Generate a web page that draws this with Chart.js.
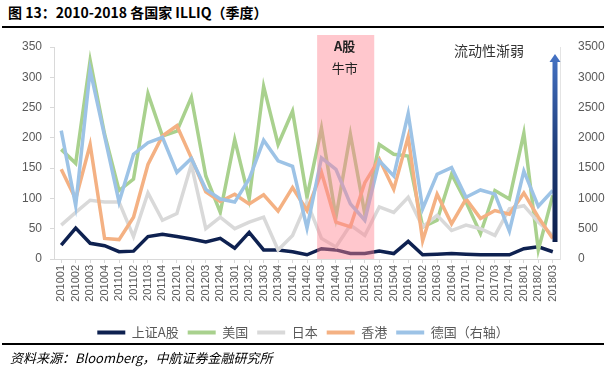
<!DOCTYPE html>
<html>
<head>
<meta charset="utf-8">
<script src="https://cdn.jsdelivr.net/npm/chart.js@4.4.0/dist/chart.umd.min.js"></script>
<style>
  body { margin: 0; background: #fff; }
  #wrap { position: relative; width: 606px; height: 371px; overflow: hidden; font-family: "Noto Sans CJK SC", sans-serif; }
  #chart { position: absolute; left: 0; top: 0; }
  .title { position: absolute; left: 8px; top: 2px; font-size: 14px; font-weight: bold; color: #000; }
  .rule { position: absolute; left: 2px; width: 602px; height: 0; border-top: 2px solid #000; }
  .src { position: absolute; left: 10px; top: 348px; font-size: 13px; font-style: italic; color: #000; }
</style>
</head>
<body>
<div id="wrap">
  <div class="title">图 13：2010-2018 各国家 ILLIQ（季度）</div>
  <div class="rule" style="top:26px"></div>
  <canvas id="chart" width="606" height="371"></canvas>
  <div class="rule" style="top:343px"></div>
  <div class="src">资料来源：Bloomberg，中航证券金融研究所</div>
</div>
<script>
// quarters 2010Q1 .. 2018Q3
const quarters = ['201001','201002','201003','201004','201101','201102','201103','201104',
  '201201','201202','201203','201204','201301','201302','201303','201304',
  '201401','201402','201403','201404','201501','201502','201503','201504',
  '201601','201602','201603','201604','201701','201702','201703','201704',
  '201801','201802','201803'];

// left axis
const shanghaiA = [23,51,26,22,12,13,37,41,37,33,28,34,18,44,15,15,12,7,17,15,9,9,13,9,29,7,8,9,8,7,7,7,17,20,12];
const usa = [181,158,328,206,113,132,273,203,211,267,137,77,197,99,285,189,244,102,216,69,206,74,189,173,170,53,64,140,94,42,113,99,208,15,105];
const japan = [56,77,97,94,94,37,109,64,75,156,50,69,50,61,69,15,39,94,34,20,56,39,86,77,102,53,72,47,56,50,39,83,88,61,39];
const hongkong = [148,99,189,34,32,69,156,203,220,167,111,95,107,91,106,79,118,80,143,61,53,126,165,115,202,30,107,58,99,67,80,74,109,69,34];
// right axis
const germany = [2120,880,3120,2030,940,1730,1920,2010,1430,1660,1150,990,940,1320,1960,1620,1530,510,1670,1480,910,640,1620,1370,2400,830,1400,1510,1020,1140,1070,460,1450,870,1130];

const leftTicks = [0, 350, 50];
const rightTicks = [0, 3500, 500];

// A股牛市: 201403 - 201502
const bullStart = 17.7;
const bullEnd = 21.65;

const tickFont = { family: 'Liberation Sans, Arial, sans-serif', size: 12 };
const cjk = '"Noto Sans CJK SC", sans-serif';

function line(label, data, color, axis, order) {
  return {
    label: label,
    data: data,
    borderColor: color,
    backgroundColor: color,
    borderWidth: 3.5,
    pointRadius: 0,
    tension: 0,
    fill: false,
    yAxisID: axis,
    order: order
  };
}

// pink band, labels and the arrow
const decor = {
  id: 'decor',
  afterDatasetsDraw(chart) {
    const ctx = chart.ctx;
    const x = chart.scales.x;
    const area = chart.chartArea;
    const x0 = x.getPixelForValue(bullStart);
    const x1 = x.getPixelForValue(bullEnd);
    ctx.save();
    ctx.fillStyle = 'rgba(255,130,145,0.45)';
    ctx.fillRect(x0, area.top - 12, x1 - x0, area.bottom - area.top + 12);

    ctx.fillStyle = '#222';
    ctx.textAlign = 'center';
    ctx.textBaseline = 'middle';
    const cx = (x0 + x1) / 2 - 1;
    ctx.font = 'bold 13px ' + cjk;
    ctx.fillText('A股', cx, area.top - 1);
    ctx.font = '13px ' + cjk;
    ctx.fillText('牛市', cx, area.top + 21);

    ctx.font = '14px ' + cjk;
    ctx.fillStyle = '#333';
    ctx.fillText('流动性渐弱', 489, area.top + 4);

    // arrow
    const ax = area.right - 5;
    const tip = area.top + 7;
    const bottom = area.bottom - 17;
    const g = ctx.createLinearGradient(0, tip, 0, bottom);
    g.addColorStop(0, '#4472C4');
    g.addColorStop(0.5, '#1F3D7A');
    g.addColorStop(1, '#0C1E4A');
    ctx.fillStyle = g;
    ctx.fillRect(ax - 2.5, tip + 6, 5, bottom - tip - 6);
    ctx.beginPath();
    ctx.moveTo(ax, tip);
    ctx.lineTo(ax + 5.5, tip + 8);
    ctx.lineTo(ax - 5.5, tip + 8);
    ctx.closePath();
    ctx.fill();
    ctx.restore();
  }
};

new Chart(document.getElementById('chart'), {
  type: 'line',
  data: {
    labels: quarters,
    datasets: [
      line('上证A股', shanghaiA, '#0E2150', 'y', 4),
      line('美国', usa, '#A9D18E', 'y', 3),
      line('日本', japan, '#D9D9D9', 'y', 2),
      line('香港', hongkong, '#F4B183', 'y', 1),
      line('德国（右轴）', germany, '#9DC3E6', 'y1', 0)
    ]
  },
  options: {
    responsive: false,
    animation: false,
    layout: { padding: { top: 47, left: 0, right: 0, bottom: 22 } },
    plugins: {
      legend: {
        position: 'bottom',
        labels: {
          boxWidth: 28,
          boxHeight: 4,
          padding: 9,
          color: '#595959',
          font: { family: cjk, size: 13 },
          sort: (a, b) => a.datasetIndex - b.datasetIndex,
          generateLabels(chart) {
            return Chart.defaults.plugins.legend.labels.generateLabels(chart).map(l => {
              l.lineWidth = 0;
              return l;
            });
          }
        }
      },
      tooltip: { enabled: false }
    },
    scales: {
      x: {
        offset: true,
        afterFit(s) { s.height = 58; },
        grid: { display: true, drawOnChartArea: false, tickLength: 4, color: '#D9D9D9' },
        border: { color: '#D9D9D9' },
        ticks: {
          autoSkip: false, minRotation: 90, maxRotation: 90, padding: 2,
          color: '#595959', font: { family: tickFont.family, size: 11 }
        }
      },
      y: {
        position: 'left',
        min: leftTicks[0], max: leftTicks[1],
        afterFit(s) { s.width = 54; },
        grid: { display: true, drawOnChartArea: false, tickLength: 4, color: '#D9D9D9' },
        border: { color: '#D9D9D9' },
        ticks: { stepSize: leftTicks[2], padding: 8, color: '#595959', font: tickFont }
      },
      y1: {
        position: 'right',
        min: rightTicks[0], max: rightTicks[1],
        afterFit(s) { s.width = 46; },
        grid: { display: false, drawOnChartArea: false },
        border: { display: true, color: '#E4E4E4' },
        ticks: {
          stepSize: rightTicks[2], padding: 10, color: '#595959', font: tickFont,
          callback: v => String(v)
        }
      }
    }
  },
  plugins: [decor]
});
</script>
</body>
</html>
